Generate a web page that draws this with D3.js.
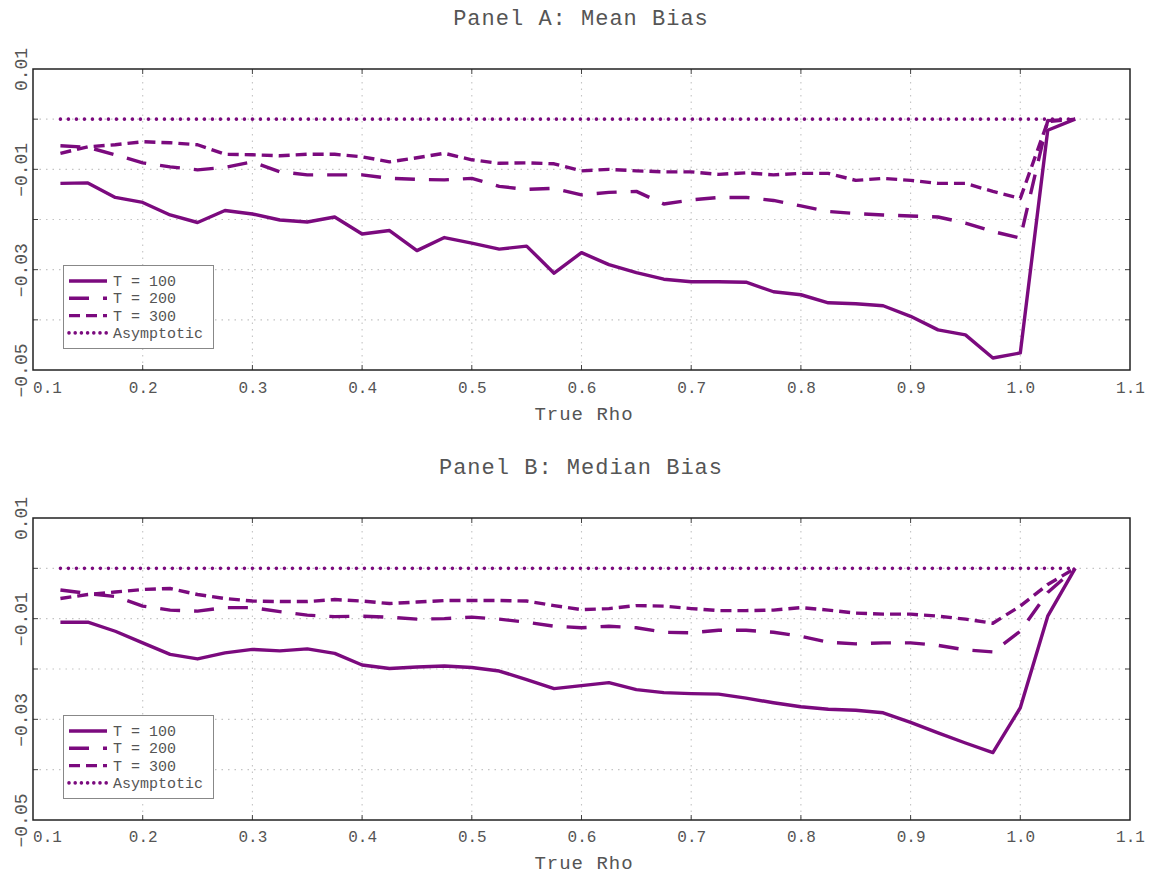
<!DOCTYPE html>
<html>
<head>
<meta charset="utf-8">
<script src="https://cdn.jsdelivr.net/npm/d3@7/dist/d3.min.js"></script>
<style>
  html, body { margin: 0; padding: 0; background: #fff; }
  svg { display: block; }
  text { font-family: "Liberation Mono", "DejaVu Sans Mono", monospace; fill: #555; }
</style>
</head>
<body>
<svg id="chart" width="1151" height="880"></svg>
<script>
// ---------------- DATA ----------------
const rho = [0.125,0.15,0.175,0.2,0.225,0.25,0.275,0.3,0.325,0.35,0.375,0.4,0.425,0.45,0.475,0.5,0.525,0.55,0.575,0.6,0.625,0.65,0.675,0.7,0.725,0.75,0.775,0.8,0.825,0.85,0.875,0.9,0.925,0.95,0.975,1.0,1.025,1.05];

const meanT100 = [-0.0128,-0.0127,-0.0156,-0.0166,-0.0191,-0.0206,-0.0182,-0.0189,-0.0201,-0.0205,-0.0195,-0.0229,-0.0222,-0.0262,-0.0236,-0.0247,-0.0259,-0.0253,-0.0307,-0.0266,-0.0290,-0.0306,-0.0319,-0.0324,-0.0324,-0.0325,-0.0344,-0.0350,-0.0366,-0.0368,-0.0372,-0.0393,-0.0420,-0.0430,-0.0476,-0.0466,-0.0022,0];
const meanT200 = [-0.0053,-0.0056,-0.0071,-0.0087,-0.0095,-0.0101,-0.0096,-0.0085,-0.0105,-0.0111,-0.0111,-0.0111,-0.0118,-0.0120,-0.0121,-0.0118,-0.0134,-0.0140,-0.0138,-0.0151,-0.0146,-0.0144,-0.0169,-0.0161,-0.0156,-0.0156,-0.0162,-0.0173,-0.0184,-0.0188,-0.0191,-0.0193,-0.0195,-0.0207,-0.0224,-0.0237,-0.0003,0];
const meanT300 = [-0.0068,-0.0055,-0.0051,-0.0045,-0.0047,-0.0051,-0.0070,-0.0071,-0.0073,-0.0070,-0.0070,-0.0075,-0.0085,-0.0077,-0.0068,-0.0081,-0.0088,-0.0087,-0.0089,-0.0103,-0.0100,-0.0103,-0.0105,-0.0105,-0.0110,-0.0107,-0.0111,-0.0108,-0.0108,-0.0122,-0.0118,-0.0122,-0.0128,-0.0128,-0.0144,-0.0158,-0.0005,0];

const medianT100 = [-0.0107,-0.0107,-0.0125,-0.0148,-0.0171,-0.0180,-0.0168,-0.0161,-0.0164,-0.0160,-0.0169,-0.0192,-0.0199,-0.0196,-0.0194,-0.0197,-0.0204,-0.0221,-0.0239,-0.0233,-0.0227,-0.0241,-0.0247,-0.0249,-0.0250,-0.0258,-0.0267,-0.0275,-0.0280,-0.0282,-0.0287,-0.0306,-0.0327,-0.0347,-0.0366,-0.0277,-0.0095,0];
const medianT200 = [-0.0043,-0.0050,-0.0056,-0.0075,-0.0083,-0.0085,-0.0078,-0.0078,-0.0086,-0.0093,-0.0096,-0.0095,-0.0097,-0.0101,-0.0100,-0.0097,-0.0101,-0.0107,-0.0115,-0.0118,-0.0115,-0.0118,-0.0127,-0.0128,-0.0123,-0.0123,-0.0127,-0.0135,-0.0147,-0.0150,-0.0148,-0.0148,-0.0153,-0.0162,-0.0166,-0.0125,-0.0048,0];
const medianT300 = [-0.0060,-0.0052,-0.0047,-0.0042,-0.0040,-0.0052,-0.0060,-0.0065,-0.0066,-0.0066,-0.0062,-0.0065,-0.0070,-0.0067,-0.0064,-0.0064,-0.0064,-0.0065,-0.0074,-0.0082,-0.0080,-0.0074,-0.0075,-0.0080,-0.0084,-0.0084,-0.0083,-0.0078,-0.0083,-0.0089,-0.0091,-0.0091,-0.0095,-0.0101,-0.0109,-0.0075,-0.0032,0];

const asymRho  = [0.125, 1.05];
const asymBias = [0, 0];

const seriesNames = ["T = 100", "T = 200", "T = 300", "Asymptotic"];
const panelTitles = ["Panel A: Mean Bias", "Panel B: Median Bias"];
const xLabel = "True Rho";
const xTicks = [0.1,0.2,0.3,0.4,0.5,0.6,0.7,0.8,0.9,1.0,1.1];
const yGridTicks = [0.01,0,-0.01,-0.02,-0.03,-0.04,-0.05];
const yLabelTicks = [0.01,-0.01,-0.03,-0.05];

// ---------------- STYLE ----------------
const COLOR = "#7b0a7e";
const styles = [
  { dash: null,    width: 3.4, cap: "butt" },
  { dash: "20,14", width: 3.4, cap: "butt" },
  { dash: "11,6",  width: 3.4, cap: "butt" },
  { dash: "0,8",   width: 3.6, cap: "round" }
];

const svg = d3.select("#chart");
const x = d3.scaleLinear().domain([0.1, 1.1]).range([33, 1130]);

function drawPanel(cfg) {
  const y = d3.scaleLinear().domain([-0.05, 0.01]).range([cfg.bottom, cfg.top]);
  const g = svg.append("g");
  const left = x.range()[0], right = x.range()[1];

  // grid
  g.append("g").selectAll("line").data(xTicks.slice(1, -1)).join("line")
    .attr("x1", d => x(d)).attr("x2", d => x(d))
    .attr("y1", cfg.top).attr("y2", cfg.bottom)
    .attr("stroke", "#c4c4c4").attr("stroke-width", 1.1)
    .attr("stroke-dasharray", "1.5,5");
  g.append("g").selectAll("line").data(yGridTicks.slice(1, -1)).join("line")
    .attr("x1", left).attr("x2", right)
    .attr("y1", d => y(d)).attr("y2", d => y(d))
    .attr("stroke", "#c4c4c4").attr("stroke-width", 1.1)
    .attr("stroke-dasharray", "1.5,5");

  // inward tick marks
  const tk = 5;
  g.append("g").selectAll("line").data(xTicks.slice(1, -1)).join("line")
    .attr("x1", d => x(d)).attr("x2", d => x(d))
    .attr("y1", cfg.bottom).attr("y2", cfg.bottom - tk)
    .attr("stroke", "#444").attr("stroke-width", 1);
  g.append("g").selectAll("line").data(xTicks.slice(1, -1)).join("line")
    .attr("x1", d => x(d)).attr("x2", d => x(d))
    .attr("y1", cfg.top).attr("y2", cfg.top + tk)
    .attr("stroke", "#444").attr("stroke-width", 1);
  g.append("g").selectAll("line").data(yGridTicks.slice(1, -1)).join("line")
    .attr("x1", left).attr("x2", left + tk)
    .attr("y1", d => y(d)).attr("y2", d => y(d))
    .attr("stroke", "#444").attr("stroke-width", 1);
  g.append("g").selectAll("line").data(yGridTicks.slice(1, -1)).join("line")
    .attr("x1", right).attr("x2", right - tk)
    .attr("y1", d => y(d)).attr("y2", d => y(d))
    .attr("stroke", "#444").attr("stroke-width", 1);

  // x axis labels
  const xAxis = d3.axisBottom(x).tickValues(xTicks).tickSize(0).tickPadding(0)
    .tickFormat(d3.format(".1f"));
  const xa = g.append("g").attr("transform", `translate(0,${cfg.bottom})`).call(xAxis);
  xa.select(".domain").remove();
  xa.selectAll("text")
    .attr("y", 0).attr("dy", 0)
    .attr("transform", (d, i) => `translate(${i === 0 ? 14 : 0},${cfg.xTickBase})`)
    .style("font-family", '"Liberation Mono", monospace')
    .style("font-size", "16px").attr("fill", "#5a5a5a");

  // y axis labels (rotated)
  const yAxis = d3.axisLeft(y).tickValues(yLabelTicks).tickSize(0).tickPadding(0)
    .tickFormat(d => d3.format(".2f")(d).replace("-", "\u2212"));
  const ya = g.append("g").attr("transform", `translate(${left},0)`).call(yAxis);
  ya.select(".domain").remove();
  ya.selectAll("text")
    .attr("x", 0).attr("dy", 0)
    .attr("text-anchor", "middle")
    .attr("transform", "translate(-6,0) rotate(-90)")
    .style("font-family", '"Liberation Mono", monospace')
    .style("font-size", "18px").attr("fill", "#5a5a5a");

  // series
  const line = d3.line().x(d => x(d[0])).y(d => y(d[1]));
  const all = cfg.series.map((vals, i) => d3.zip(rho, vals));
  all.push(d3.zip(asymRho, asymBias));
  [3, 2, 1, 0].forEach(i => {
    g.append("path").datum(all[i])
      .attr("d", line).attr("fill", "none")
      .attr("stroke", COLOR).attr("stroke-width", styles[i].width)
      .attr("stroke-linecap", styles[i].cap).attr("stroke-linejoin", "round")
      .attr("stroke-dasharray", styles[i].dash);
  });

  // frame
  g.append("rect").attr("x", left).attr("y", cfg.top)
    .attr("width", right - left).attr("height", cfg.bottom - cfg.top)
    .attr("fill", "none").attr("stroke", "#222").attr("stroke-width", 1.5);

  // title and x label
  g.append("text").attr("x", 581).attr("y", cfg.titleY)
    .attr("text-anchor", "middle").style("font-size", "22px")
    .style("letter-spacing", "1px").attr("fill", "#5a5a5a").text(cfg.title);
  g.append("text").attr("x", 584).attr("y", cfg.xLabelY)
    .attr("text-anchor", "middle").style("font-size", "19px")
    .style("letter-spacing", "1px").attr("fill", "#5a5a5a").text(xLabel);

  // legend
  const lg = g.append("g");
  lg.append("rect").attr("x", 63.5).attr("y", cfg.legTop + 0.5)
    .attr("width", 150).attr("height", 83)
    .attr("fill", "#fff").attr("stroke", "#888").attr("stroke-width", 1);
  seriesNames.forEach((name, i) => {
    const ry = cfg.legTop + 16 + i * 17.3;
    lg.append("line").attr("x1", 69).attr("x2", 107).attr("y1", ry).attr("y2", ry)
      .attr("stroke", COLOR).attr("stroke-width", styles[i].width)
      .attr("stroke-linecap", styles[i].cap)
      .attr("stroke-dasharray", i === 3 ? "0,6.2" : styles[i].dash);
    lg.append("text").attr("x", 113).attr("y", ry + 5)
      .style("font-size", "15px").attr("fill", "#444").text(name);
  });
}

drawPanel({ top: 69, bottom: 370, title: panelTitles[0], titleY: 25, xLabelY: 420,
            xTickBase: 23, legTop: 265, series: [meanT100, meanT200, meanT300] });
drawPanel({ top: 518, bottom: 820, title: panelTitles[1], titleY: 474, xLabelY: 869,
            xTickBase: 22, legTop: 715, series: [medianT100, medianT200, medianT300] });
</script>
</body>
</html>
